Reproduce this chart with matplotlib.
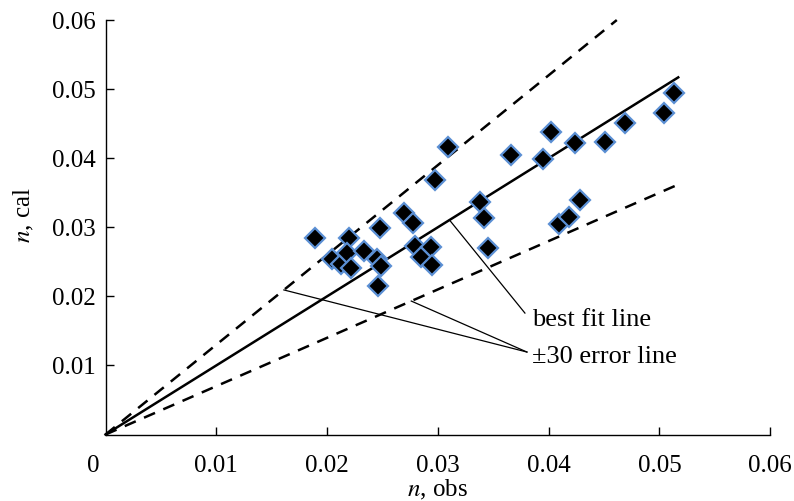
"""Calculated vs observed n with best fit and +/-30 % error lines."""

import numpy as np
import matplotlib
matplotlib.use('Agg')
import matplotlib.pyplot as plt

plt.rcParams['font.family'] = ['Liberation Serif', 'DejaVu Serif']
plt.rcParams['mathtext.fontset'] = 'stix'
plt.rcParams['font.size'] = 18

# data (units of n)
n_obs = [0.0189, 0.0220, 0.0248, 0.0269, 0.0278, 0.0204, 0.0213, 0.0218,
         0.0222, 0.0233, 0.0245, 0.0249, 0.0246, 0.0279, 0.0285, 0.0294,
         0.0295, 0.0309, 0.0297, 0.0338, 0.0342, 0.0345, 0.0366, 0.0395,
         0.0402, 0.0409, 0.0418, 0.0428, 0.0424, 0.0451, 0.0469, 0.0504,
         0.0513]
n_cal = [0.0284, 0.0284, 0.0299, 0.0321, 0.0306, 0.0254, 0.0247, 0.0263,
         0.0241, 0.0265, 0.0254, 0.0244, 0.0215, 0.0273, 0.0257, 0.0271,
         0.0245, 0.0416, 0.0368, 0.0337, 0.0313, 0.0270, 0.0405, 0.0399,
         0.0438, 0.0305, 0.0315, 0.0339, 0.0422, 0.0424, 0.0451, 0.0465,
         0.0494]

fit_end = 0.0517
err_frac = 0.30
ticks = [0.01, 0.02, 0.03, 0.04, 0.05, 0.06]
tick_labels = ['0.01', '0.02', '0.03', '0.04', '0.05', '0.06']

fig = plt.figure(figsize=(7.94, 5.01), dpi=100)
ax = fig.add_axes([0.1329, 0.1327, 0.970 - 0.1329, 0.960 - 0.1327])

line_kw = dict(color='black', lw=1.8, clip_on=False, zorder=2)
ax.plot([0, fit_end], [0, fit_end], **line_kw)
up_end = 0.06 / (1 + err_frac)
ax.plot([0, up_end], [0, (1 + err_frac) * up_end], dashes=(4.8, 3.6), **line_kw)
ax.plot([0, fit_end], [0, (1 - err_frac) * fit_end], dashes=(4.8, 3.6), **line_kw)

ax.plot(n_obs, n_cal, ls='none', marker='D', ms=10, mfc='black',
        mec='#5b8fd4', mew=1.6, zorder=3)

# leader lines for annotations
thin = dict(color='black', lw=0.9, zorder=2)
ax.plot([0.03105, 0.03786], [0.03105, 0.01758], **thin)
ax.plot([0.0161, 0.03804], [0.0161 * 1.3, 0.01194], **thin)
ax.plot([0.0276, 0.03804], [0.0276 * 0.7, 0.01194], **thin)
ax.text(0.0385, 0.01657, 'best fit line', ha='left', va='center', fontsize=19)
ax.text(0.0385, 0.01122, '\u00b130 error line', ha='left', va='center', fontsize=19)

ax.set_xlim(0, 0.06)
ax.set_ylim(0, 0.06)
ax.spines['top'].set_visible(False)
ax.spines['right'].set_visible(False)
for s in ('left', 'bottom'):
    ax.spines[s].set_linewidth(1.0)

ax.set_xticks(ticks)
ax.set_xticklabels(tick_labels)
ax.set_yticks(ticks)
ax.set_yticklabels(tick_labels)
ax.tick_params(axis='x', direction='in', length=6, width=1.0, pad=15)
ax.tick_params(axis='y', direction='in', length=6, width=1.0, pad=7)
ax.annotate('0', xy=(0, 0), xycoords='axes fraction', xytext=(-9, -15),
            textcoords='offset points', ha='center', va='top')

ax.set_xlabel(r'$n$, obs')
ax.set_ylabel(r'$n$, cal')
ax.xaxis.set_label_coords(0.5, -0.105)
ax.yaxis.set_label_coords(-0.105, 0.53)

fig.savefig('out.png', dpi=100)
